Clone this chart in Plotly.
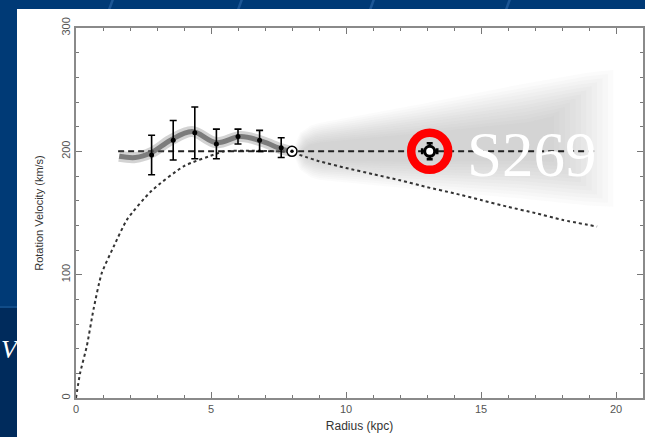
import plotly.graph_objects as go

# ---- data ----
obs_r = [2.8, 3.6, 4.4, 5.2, 6.0, 6.8, 7.6]
obs_v = [197, 209, 215, 206, 212, 209, 203]
obs_err_up = [16, 16, 21, 12, 6, 8, 8]
obs_err_dn = [16, 16, 21, 12, 6, 9, 8]

smooth_r = [1.6, 2.2, 2.8, 3.5, 4.3, 5.2, 6.1, 6.9, 7.6, 8.0]
smooth_v = [196, 195, 199, 209, 216, 207, 212, 208, 202, 200]

flat_r = [1.56, 19.3]
flat_v = [200, 200]

kep_r = [0, 0.15, 0.4, 0.65, 0.95, 1.4, 1.9, 2.8, 4.0, 5.2, 5.5, 6.5, 7.5, 8.0, 8.5, 9.0,
         10, 11, 12, 13, 14, 15, 16, 17, 18, 19.3]
kep_v = [0, 20, 42, 72, 101, 123, 145, 168, 188, 198, 200, 200.5, 200, 199, 195.5, 192,
         186.5, 181.5, 176.5, 171, 166, 160.5, 155, 150, 144.5, 139]

sun_r = [8.0]
sun_v = [200]

s269_r = [13.1]
s269_v = [200]

cone_r = [8.1, 8.3, 8.7, 9.0, 12.7, 16.4, 19.0, 19.9]
cone_hi = [205, 215, 221, 223, 238, 254, 264, 266]
cone_lo = [195, 185, 179, 177, 169, 162, 156, 155]

x_ticks = [0, 5, 10, 15, 20]
y_ticks = [0, 100, 200, 300]

fig = go.Figure()

# ---- shaded cone (layered to mimic a soft gradient) ----
n_layers = 12
for k in range(n_layers):
    f = 1.0 - k * 0.06
    mid = [(h + l) / 2 for h, l in zip(cone_hi, cone_lo)]
    hi = [m + f * (h - m) for m, h in zip(mid, cone_hi)]
    lo = [m + f * (l - m) for m, l in zip(mid, cone_lo)]
    xs = [r + k * 0.03 for r in cone_r[:-2]] + [cone_r[-2] - k * 0.12, cone_r[-1] - k * 0.2]
    fig.add_trace(go.Scatter(
        x=xs + xs[::-1], y=hi + lo[::-1], fill="toself", mode="lines",
        line=dict(width=0), fillcolor="rgba(150,150,150,0.035)",
        hoverinfo="skip", showlegend=False))

# ---- Keplerian dotted curve ----
fig.add_trace(go.Scatter(x=kep_r, y=kep_v, mode="lines",
                         line=dict(color="#333333", width=2, dash="dot", shape="spline", smoothing=0.6),
                         showlegend=False))

# ---- flat dashed line ----
fig.add_trace(go.Scatter(x=flat_r, y=flat_v, mode="lines",
                         line=dict(color="#222222", width=2, dash="6px,4px"),
                         showlegend=False))

# ---- thick blurred gray fit curve ----
fig.add_trace(go.Scatter(x=smooth_r, y=smooth_v, mode="lines",
                         line=dict(color="rgba(110,110,110,0.30)", width=11, shape="spline"),
                         showlegend=False))
fig.add_trace(go.Scatter(x=smooth_r, y=smooth_v, mode="lines",
                         line=dict(color="rgba(95,95,95,0.75)", width=5, shape="spline"),
                         showlegend=False))

# ---- observed points ----
fig.add_trace(go.Scatter(x=obs_r, y=obs_v, mode="markers",
                         marker=dict(color="black", size=5),
                         error_y=dict(type="data", array=obs_err_up, arrayminus=obs_err_dn,
                                      color="black", thickness=1.6, width=3.5),
                         showlegend=False))

# ---- sun symbol ----
fig.add_trace(go.Scatter(x=sun_r, y=sun_v, mode="markers",
                         marker=dict(color="white", size=10, line=dict(color="black", width=1.5)),
                         showlegend=False))
fig.add_trace(go.Scatter(x=sun_r, y=sun_v, mode="markers",
                         marker=dict(color="black", size=3.5), showlegend=False))

# ---- S269 point with red ring ----
fig.add_trace(go.Scatter(x=s269_r, y=s269_v, mode="markers",
                         marker=dict(color="white", size=10, line=dict(color="black", width=3)),
                         error_x=dict(type="data", array=[0.28], color="black", thickness=2.5, width=3),
                         error_y=dict(type="data", array=[6.5], color="black", thickness=2.5, width=3),
                         showlegend=False))
fig.add_trace(go.Scatter(x=s269_r, y=s269_v, mode="markers",
                         marker=dict(symbol="circle-open", size=37, color="#ff0000",
                                     line=dict(color="#ff0000", width=8.5)),
                         showlegend=False))

fig.add_annotation(x=16.9, y=197, text="S269", showarrow=False, xanchor="center", yanchor="middle",
                   font=dict(family="Liberation Serif, Times New Roman, serif", size=63, color="white"))

# slide text fragment on the left
fig.add_annotation(xref="paper", yref="paper", x=(-1 - 76) / 567, y=(398 - 349) / 370,
                   text="<i>V</i>", showarrow=False, xanchor="left", yanchor="middle",
                   font=dict(family="Liberation Serif, Times New Roman, serif", size=26, color="white"))

# ---- slide background decorations ----
shapes = []
shapes.append(dict(type="rect", xref="paper", yref="paper", x0=-0.2, x1=(17 - 76) / 567,
                   y0=-0.2, y1=(398 - 307) / 370, fillcolor="#002b5c", line=dict(width=0), layer="below"))
shapes.append(dict(type="line", xref="paper", yref="paper", x0=-0.2, x1=(17 - 76) / 567,
                   y0=(398 - 307) / 370, y1=(398 - 307) / 370, line=dict(color="#114c88", width=2), layer="below"))
for px in [111, 240, 372, 508]:
    shapes.append(dict(type="line", xref="paper", yref="paper",
                       x0=(px - 2 - 76) / 567, x1=(px + 2 - 76) / 567,
                       y0=(398 - 10) / 370, y1=(398 + 1) / 370,
                       line=dict(color="#1d5796", width=2.5), layer="below"))
shapes.append(dict(type="rect", xref="paper", yref="paper", x0=(17 - 76) / 567, x1=1.02,
                   y0=-0.12, y1=(398 - 9) / 370, fillcolor="white", line=dict(width=0), layer="below"))

axis_common = dict(showgrid=False, zeroline=False, showline=True, linecolor="#8a8a8a", linewidth=1.5,
                   mirror="allticks", ticks="inside", ticklen=6, tickwidth=1.2, tickcolor="#777777",
                   automargin=False,
                   tickfont=dict(family="Liberation Sans, Arial, sans-serif", size=11, color="#555555"))

fig.update_xaxes(range=[0, 21], tickvals=x_ticks,
                 minor=dict(ticks="inside", dtick=1, ticklen=3, tickcolor="#777777", tickwidth=1),
                 title=dict(text="Radius (kpc)", standoff=8,
                            font=dict(family="Liberation Sans, Arial, sans-serif", size=12, color="#333333")),
                 **axis_common)
fig.update_yaxes(range=[0, 300], tickvals=y_ticks, tickangle=-90,
                 minor=dict(ticks="inside", dtick=20, ticklen=3, tickcolor="#777777", tickwidth=1),
                 title=dict(text="Rotation Velocity (km/s)", standoff=14,
                            font=dict(family="Liberation Sans, Arial, sans-serif", size=11, color="#333333")),
                 **axis_common)

fig.update_layout(width=645, height=437, margin=dict(l=76, r=2, t=28, b=39, autoexpand=False),
                  paper_bgcolor="#003a76", plot_bgcolor="rgba(0,0,0,0)", shapes=shapes,
                  showlegend=False)

fig.write_html("out.html", config={"displayModeBar": False},
               post_script="document.body.style.margin='0';document.body.style.overflow='hidden';")
